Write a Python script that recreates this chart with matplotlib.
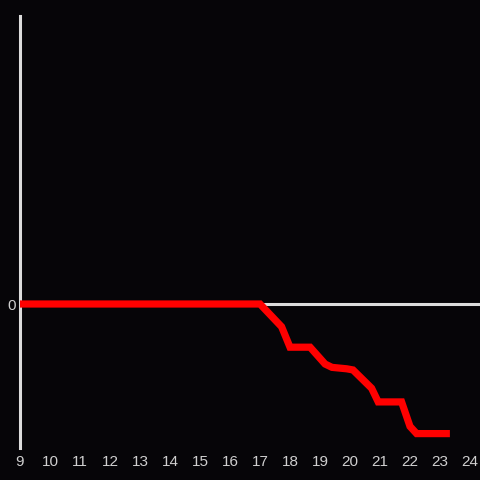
import matplotlib
matplotlib.use("Agg")
import matplotlib.pyplot as plt

# series
hours = [9, 17.0, 17.72, 18.0, 18.67, 19.17, 19.4, 19.89, 20.1, 20.72, 20.94, 21.72, 22.0, 22.22, 23.33]
values = [0, 0, -0.158, -0.30, -0.30, -0.417, -0.44, -0.45, -0.458, -0.585, -0.68, -0.68, -0.85, -0.90, -0.90]
xticks = list(range(9, 25))

bg = "#060508"
axis_col = "#dcdcdc"

plt.rcParams["font.family"] = ["Liberation Sans", "DejaVu Sans"]

fig = plt.figure(figsize=(4.8, 4.8), dpi=100, facecolor=bg)
ax = fig.add_axes([20 / 480, 32 / 480, 460 / 480, 432 / 480], facecolor=bg)

ax.axhline(0, color=axis_col, lw=2.2, zorder=1)
ax.plot(hours, values, color="#ff0000", lw=5.2, solid_capstyle="butt",
        solid_joinstyle="miter", zorder=3, clip_on=False)

ax.set_xlim(9, 9 + 460 / 30)
ax.set_ylim(-1, 2)
ax.set_xticks(xticks)
ax.set_xticklabels([str(t) for t in xticks])
ax.set_yticks([0])
ax.set_yticklabels(["0"])
ax.tick_params(length=0, colors="#cfcfcf", labelsize=11, pad=5)
ax.tick_params(axis="y", pad=3)

for side in ("top", "right", "bottom"):
    ax.spines[side].set_visible(False)
ax.spines["left"].set_color(axis_col)
ax.spines["left"].set_linewidth(2.2)

fig.savefig("out.png", dpi=100, facecolor=bg)
